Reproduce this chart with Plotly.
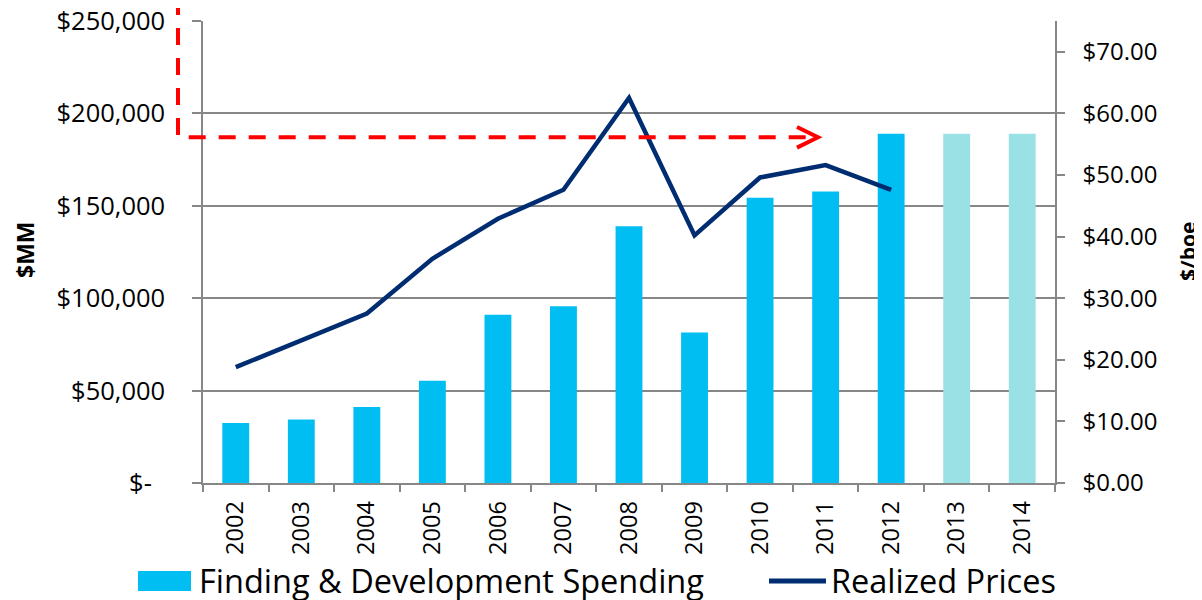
import plotly.graph_objects as go

# ---------------- data ----------------
years = ["2002", "2003", "2004", "2005", "2006", "2007", "2008",
         "2009", "2010", "2011", "2012", "2013", "2014"]
fd_spending = [32500, 34300, 41100, 55300, 91000, 95700, 139000,
               81400, 154400, 157800, 189000, 189000, 189000]
fd_colors = ["#00BEF2"] * 11 + ["#99E1E5"] * 2
price_years = ["2002", "2003", "2004", "2005", "2006", "2007", "2008",
               "2009", "2010", "2011", "2012"]
realized_prices = [18.8, 23.2, 27.5, 36.4, 42.9, 47.6, 62.5,
                   40.2, 49.6, 51.6, 47.6]
left_ticks = [0, 50000, 100000, 150000, 200000, 250000]
left_labels = ["$-\u00a0\u00a0", "$50,000", "$100,000", "$150,000", "$200,000", "$250,000"]
right_ticks = [0, 10, 20, 30, 40, 50, 60, 70]
right_labels = ["$0.00", "$10.00", "$20.00", "$30.00", "$40.00", "$50.00", "$60.00", "$70.00"]
bar_name = "Finding & Development Spending"
line_name = "Realized Prices"

# ---------------- layout constants ----------------
# the page body has an 8px default margin, so the figure is shifted by 8px
OFF = 8
W, H = 1202 - OFF, 600 - OFF
PL, PR, PT, PB = 203, 1055, 21, 483      # plot area in page pixels
L, R, T, B = PL - OFF, W + OFF - PR, PT - OFF, H + OFF - PB
PW, PH = PR - PL, PB - PT
FONT = "Open Sans"
GRID = "#878787"
NAVY = "#002D72"
RED = "#FF0000"


def px(x):
    return (x - PL) / PW


def py(y):
    return (PB - y) / PH


fig = go.Figure()
fig.add_trace(go.Bar(x=years, y=fd_spending, name=bar_name,
                     marker=dict(color=fd_colors, line=dict(width=0)),
                     yaxis="y", showlegend=False))
fig.add_trace(go.Scatter(x=price_years, y=realized_prices, name=line_name,
                         mode="lines", line=dict(color=NAVY, width=4.5),
                         yaxis="y2", showlegend=False))

shapes = []
# red dashed elbow arrow
shapes.append(dict(type="path", xref="paper", yref="paper",
                   path=f"M {px(178)},{py(-2)} L {px(178)},{py(137.3)} L {px(813)},{py(137.3)}",
                   line=dict(color=RED, width=4, dash="17px,13px")))
shapes.append(dict(type="path", xref="paper", yref="paper",
                   path=f"M {px(797)},{py(127)} L {px(818)},{py(137.3)} L {px(797)},{py(147.6)}",
                   line=dict(color=RED, width=4)))
# manual legend
shapes.append(dict(type="rect", xref="paper", yref="paper",
                   x0=px(138), x1=px(191), y0=py(591), y1=py(571),
                   fillcolor="#00BEF2", line=dict(width=0)))
shapes.append(dict(type="line", xref="paper", yref="paper",
                   x0=px(769), x1=px(826), y0=py(581), y1=py(581),
                   line=dict(color=NAVY, width=5)))

annotations = [
    dict(text=bar_name, xref="paper", yref="paper", x=px(197), y=py(580),
         xanchor="left", yanchor="middle", showarrow=False,
         font=dict(family=FONT, size=32.5, color="#000000")),
    dict(text=line_name, xref="paper", yref="paper", x=px(829), y=py(580),
         xanchor="left", yanchor="middle", showarrow=False,
         font=dict(family=FONT, size=32.5, color="#000000")),
    dict(text="<b>$MM</b>", xref="paper", yref="paper", x=px(25), y=py(250),
         xanchor="center", yanchor="middle", textangle=-90, showarrow=False,
         font=dict(family=FONT, size=23, color="#000000")),
    dict(text="<b>$/boe</b>", xref="paper", yref="paper", x=px(1188), y=py(252),
         xanchor="center", yanchor="middle", textangle=-90, showarrow=False,
         font=dict(family=FONT, size=21, color="#000000")),
]

fig.update_layout(
    width=W, height=H,
    margin=dict(l=L, r=R, t=T, b=B, pad=0, autoexpand=False),
    paper_bgcolor="white", plot_bgcolor="white",
    font=dict(family=FONT, color="#000000"),
    bargap=0.59,
    showlegend=False,
    shapes=shapes,
    annotations=annotations,
    xaxis=dict(type="category", tickson="boundaries", ticks="outside", ticklen=7,
               tickcolor=GRID, tickwidth=1.5, showline=True, linecolor=GRID, linewidth=1.5,
               tickangle=-90, tickfont=dict(family=FONT, size=23.5, color="#000000"),
               showgrid=False, ticklabelstandoff=7, automargin=False),
    yaxis=dict(range=[0, 250000], tickvals=left_ticks, ticktext=left_labels,
               ticks="outside", ticklen=9, tickcolor=GRID, tickwidth=1.5,
               showline=True, linecolor=GRID, linewidth=1.5,
               showgrid=True, gridcolor=GRID, gridwidth=1.5, zeroline=False,
               tickfont=dict(family=FONT, size=25.5, color="#000000"),
               ticklabelstandoff=22, ticklabeloverflow="allow", automargin=False),
    yaxis2=dict(range=[0, 75], tickvals=right_ticks, ticktext=right_labels,
                overlaying="y", side="right", anchor="x",
                ticks="outside", ticklen=8, tickcolor=GRID, tickwidth=1.5,
                showline=True, linecolor=GRID, linewidth=1.5,
                showgrid=False, zeroline=False,
                tickfont=dict(family=FONT, size=24, color="#000000"),
                ticklabelstandoff=13, ticklabeloverflow="allow", automargin=False),
)

fig.write_html("out.html")
